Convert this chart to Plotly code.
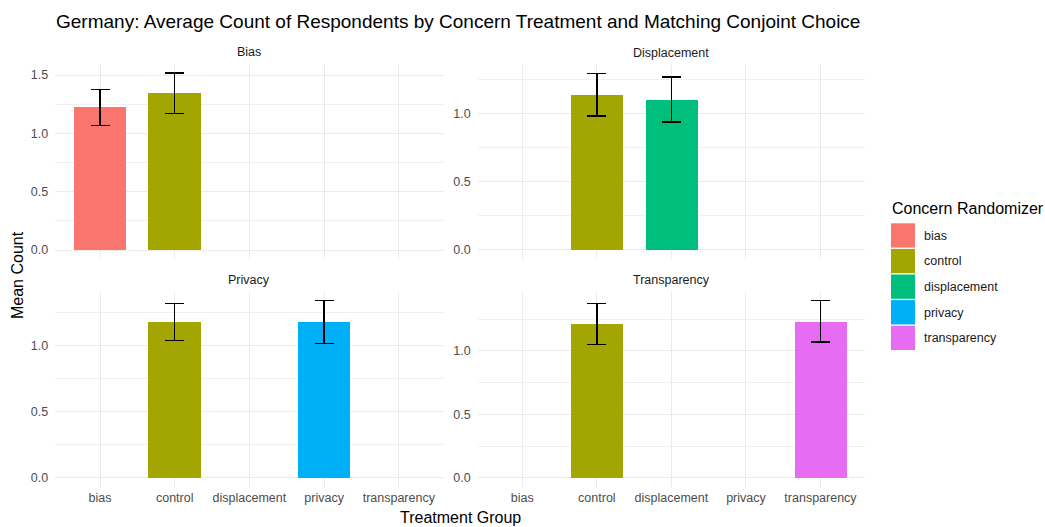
import plotly.graph_objects as go

# Treatment groups on the x axis and the concern facet panels
groups = ["bias", "control", "displacement", "privacy", "transparency"]
panels = ["Bias", "Displacement", "Privacy", "Transparency"]
colors = {
    "bias": "#F8766D",
    "control": "#A3A500",
    "displacement": "#00BF7D",
    "privacy": "#00B0F6",
    "transparency": "#E76BF3",
}

# Mean count and standard error per panel (control vs. the panel's treatment)
bias_groups = ["bias", "control"]
bias_mean = [1.222, 1.344]
bias_se = [0.153, 0.173]

displacement_groups = ["control", "displacement"]
displacement_mean = [1.135, 1.100]
displacement_se = [0.156, 0.164]

privacy_groups = ["control", "privacy"]
privacy_mean = [1.177, 1.176]
privacy_se = [0.140, 0.163]

transparency_groups = ["control", "transparency"]
transparency_mean = [1.212, 1.233]
transparency_se = [0.162, 0.163]

panel_data = [
    (bias_groups, bias_mean, bias_se),
    (displacement_groups, displacement_mean, displacement_se),
    (privacy_groups, privacy_mean, privacy_se),
    (transparency_groups, transparency_mean, transparency_se),
]

W, H = 1045, 527

# Panel rectangles in pixels: (left, right, top, bottom)
boxes = [
    (55.2, 443.6, 64.2, 258.9),
    (477.6, 865.2, 64.6, 258.8),
    (55.2, 443.6, 291.6, 486.6),
    (477.6, 865.2, 291.8, 486.6),
]

def px_x(v):
    return v / W

def px_y(v):
    return 1 - v / H

fig = go.Figure()

GRID = "#EBEBEB"
FONT = "Liberation Sans, Arial, sans-serif"
TICK_FONT = dict(family=FONT, size=12.5, color="#4D4D4D")

layout_axes = {}
annotations = []
for i, ((cats, means, ses), box, name) in enumerate(zip(panel_data, boxes, panels)):
    n = i + 1
    xa = "x" if n == 1 else f"x{n}"
    ya = "y" if n == 1 else f"y{n}"
    for c, m, s in zip(cats, means, ses):
        fig.add_trace(go.Bar(
            x=[c], y=[m],
            xaxis=xa, yaxis=ya,
            width=0.7,
            marker=dict(color=colors[c], line=dict(width=0)),
            error_y=dict(type="data", array=[s], visible=True,
                         color="black", thickness=1.3, width=9.5),
            showlegend=False,
            hoverinfo="x+y",
        ))
    top = max(m + s for m, s in zip(means, ses))
    yr = [-0.05 * top, 1.05 * top]
    left, right, ytop, ybot = box
    bottom_row = n >= 3
    layout_axes[f"xaxis{'' if n == 1 else n}"] = dict(
        domain=[px_x(left), px_x(right)],
        anchor=ya,
        type="category",
        categoryorder="array",
        categoryarray=groups,
        range=[-0.6, 4.6],
        showgrid=True, gridcolor=GRID, gridwidth=1.1,
        zeroline=False, showline=False, ticks="",
        showticklabels=bottom_row,
        ticklabelstandoff=2,
        tickfont=TICK_FONT,
    )
    layout_axes[f"yaxis{'' if n == 1 else n}"] = dict(
        domain=[px_y(ybot), px_y(ytop)],
        anchor=xa,
        range=yr,
        dtick=0.5, tick0=0, tickformat=".1f",
        showgrid=True, gridcolor=GRID, gridwidth=1.1,
        minor=dict(dtick=0.25, tick0=0, showgrid=True, gridcolor="#F0F0F0", gridwidth=0.7),
        zeroline=False, showline=False, ticks="",
        ticklabelstandoff=6,
        tickfont=TICK_FONT,
    )
    annotations.append(dict(
        text=name, x=px_x((left + right) / 2), y=px_y(ytop - 12),
        xref="paper", yref="paper", showarrow=False,
        xanchor="center", yanchor="middle",
        font=dict(family=FONT, size=12.5, color="#1A1A1A"),
    ))

# Axis titles
annotations.append(dict(
    text="Treatment Group", x=px_x(460), y=px_y(517), xref="paper", yref="paper",
    showarrow=False, xanchor="center", yanchor="middle",
    font=dict(family=FONT, size=16, color="black"),
))
annotations.append(dict(
    text="Mean Count", x=px_x(17), y=px_y(275), xref="paper", yref="paper",
    showarrow=False, xanchor="center", yanchor="middle", textangle=-90,
    font=dict(family=FONT, size=16, color="black"),
))

# Legend drawn as colour keys with labels
shapes = []
annotations.append(dict(
    text="Concern Randomizer", x=px_x(890), y=px_y(208), xref="paper", yref="paper",
    showarrow=False, xanchor="left", yanchor="middle",
    font=dict(family=FONT, size=16, color="black"),
))
key_top = 223.3
key_step = 25.6
for k, g in enumerate(groups):
    y0 = key_top + k * key_step
    shapes.append(dict(
        type="rect", xref="paper", yref="paper",
        x0=px_x(891), x1=px_x(915), y0=px_y(y0), y1=px_y(y0 + 24.3),
        fillcolor=colors[g], line=dict(width=0),
    ))
    annotations.append(dict(
        text=g, x=px_x(922), y=px_y(y0 + 12.5), xref="paper", yref="paper",
        showarrow=False, xanchor="left", yanchor="middle",
        font=dict(family=FONT, size=12.5, color="#1A1A1A"),
    ))

fig.update_layout(
    width=W, height=H,
    margin=dict(l=0, r=0, t=0, b=0),
    paper_bgcolor="white", plot_bgcolor="white",
    title=dict(
        text="Germany: Average Count of Respondents by Concern Treatment and Matching Conjoint Choice",
        x=px_x(56), xanchor="left", y=px_y(21), yanchor="middle",
        font=dict(family=FONT, size=19, color="black"),
    ),
    annotations=annotations,
    shapes=shapes,
    bargap=0,
    showlegend=False,
    **layout_axes,
)

fig.write_html("out.html")
